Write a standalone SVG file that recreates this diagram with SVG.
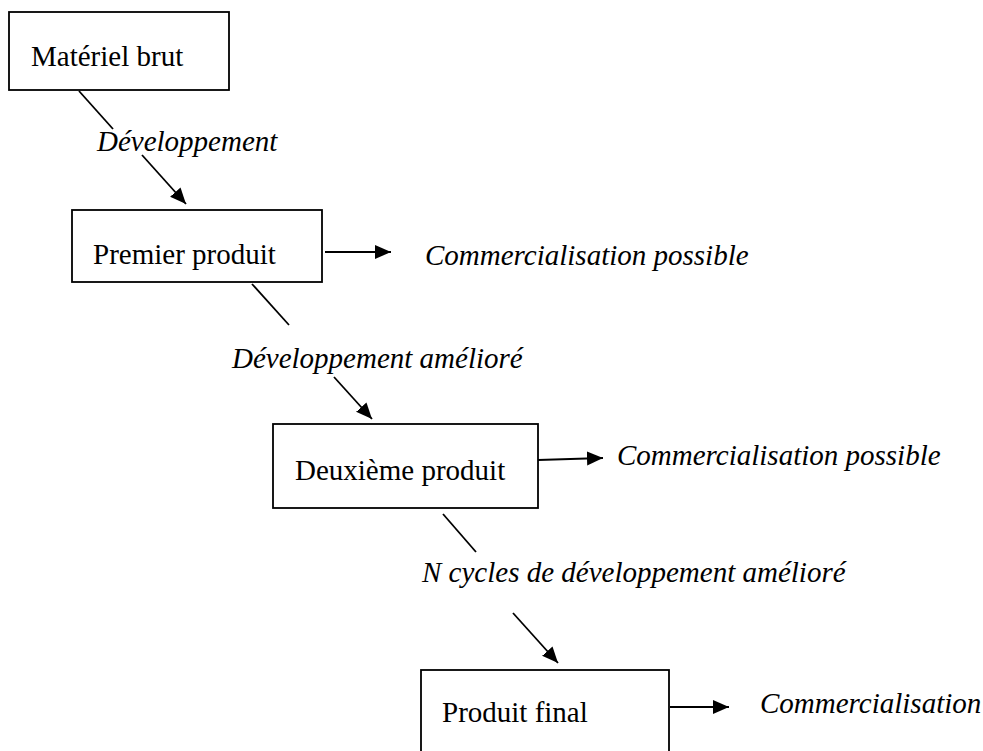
<svg xmlns="http://www.w3.org/2000/svg" width="983" height="751" viewBox="0 0 983 751">
<style>
.box{fill:#fff;stroke:#000;stroke-width:1.8}
.t{font-family:"Liberation Serif","Times New Roman",serif;font-size:29px;fill:#000}
.i{font-style:italic}
.c{stroke:#000;stroke-width:1.8;fill:none}
</style>
<defs>
<marker id="ah" markerUnits="userSpaceOnUse" markerWidth="18" markerHeight="16" refX="16" refY="7" orient="auto">
<path d="M0,0 L16,7 L0,14 Z" fill="#000"/>
</marker>
</defs>
<rect width="983" height="751" fill="#fff"/>
<g id="connectors">
<line class="c" x1="79" y1="91" x2="113" y2="129"/>
<line class="c" x1="142" y1="155" x2="186" y2="204" marker-end="url(#ah)"/>
<line class="c" x1="325" y1="252" x2="391" y2="252" marker-end="url(#ah)"/>
<line class="c" x1="252" y1="284" x2="289" y2="325"/>
<line class="c" x1="334" y1="377" x2="372" y2="419" marker-end="url(#ah)"/>
<line class="c" x1="538" y1="460" x2="603" y2="458" marker-end="url(#ah)"/>
<line class="c" x1="443" y1="514" x2="476" y2="552"/>
<line class="c" x1="513" y1="613" x2="558" y2="663" marker-end="url(#ah)"/>
<line class="c" x1="670" y1="707" x2="729" y2="707" marker-end="url(#ah)"/>
</g>
<g id="n1">
<rect class="box" x="9" y="12" width="220" height="78"/>
<text class="t" x="31" y="66">Matériel brut</text>
</g>
<g id="n2">
<rect class="box" x="72" y="210" width="250" height="72"/>
<text class="t" x="93" y="264">Premier produit</text>
</g>
<g id="n3">
<rect class="box" x="273" y="424" width="265" height="84"/>
<text class="t" x="295" y="480">Deuxième produit</text>
</g>
<g id="n4">
<rect class="box" x="421" y="670" width="248" height="90"/>
<text class="t" x="442" y="722">Produit final</text>
</g>
<g id="labels">
<text class="t i" x="97" y="151">Développement</text>
<text class="t i" x="425" y="265">Commercialisation possible</text>
<text class="t i" x="232" y="368">Développement amélioré</text>
<text class="t i" x="617" y="465">Commercialisation possible</text>
<text class="t i" x="422" y="582">N cycles de développement amélioré</text>
<text class="t i" x="760" y="713">Commercialisation</text>
</g>
</svg>
